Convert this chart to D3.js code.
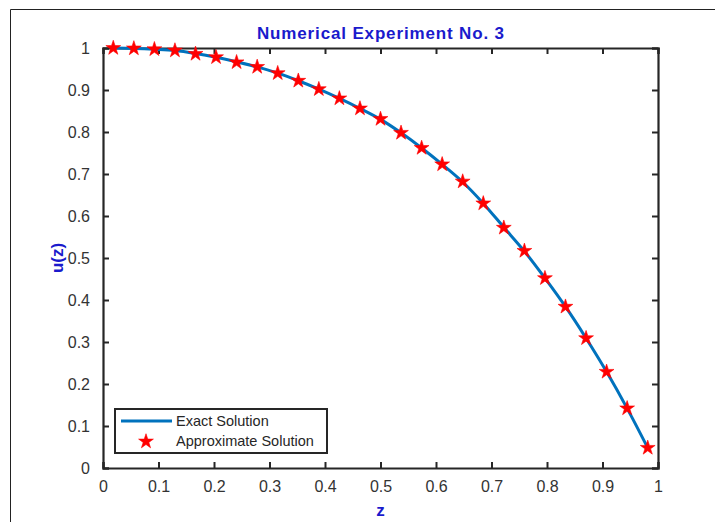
<!DOCTYPE html>
<html lang="en">
  <head>
    <meta charset="UTF-8" />
    <title>Numerical Experiment No. 3</title>
    <script src="https://cdn.jsdelivr.net/npm/d3@7"></script>
    <style>
      body { margin: 0; background: #fff; }
      svg text { font-family: Arial, "Liberation Sans", Helvetica, sans-serif; }
    </style>
  </head>
  <body>
    <script>
      // data
      var zValues = [0.0185, 0.0556, 0.0926, 0.1296, 0.1667, 0.2037, 0.2407, 0.2778, 0.3148,
                     0.3519, 0.3889, 0.4259, 0.4630, 0.5000, 0.5370, 0.5741, 0.6111, 0.6481,
                     0.6852, 0.7222, 0.7593, 0.7963, 0.8333, 0.8704, 0.9074, 0.9444, 0.9815];
      var exactU = [1.000, 0.999, 0.997, 0.994, 0.987, 0.978, 0.967, 0.955, 0.940,
                    0.922, 0.902, 0.880, 0.856, 0.830, 0.798, 0.762, 0.723, 0.681,
                    0.630, 0.573, 0.516, 0.452, 0.384, 0.309, 0.229, 0.142, 0.048];
      var approxU = [1.000, 0.999, 0.997, 0.994, 0.986, 0.978, 0.966, 0.955, 0.940,
                     0.922, 0.902, 0.880, 0.856, 0.831, 0.798, 0.762, 0.723, 0.682,
                     0.630, 0.572, 0.517, 0.452, 0.384, 0.309, 0.229, 0.142, 0.048];
      var xTicks = [0, 0.1, 0.2, 0.3, 0.4, 0.5, 0.6, 0.7, 0.8, 0.9, 1];
      var yTicks = [0, 0.1, 0.2, 0.3, 0.4, 0.5, 0.6, 0.7, 0.8, 0.9, 1];
      var legendNames = ["Exact Solution", "Approximate Solution"];

      var w = 715, h = 522;
      var margin = { top: 48, right: 57, bottom: 54, left: 103 };
      var axisColor = "#262626";

      var svg = d3.select("body").append("svg")
        .attr("width", w)
        .attr("height", h);

      // figure frame (thin line, left and top)
      svg.append("path")
        .attr("d", "M10.5," + h + "V9.5H" + w)
        .attr("fill", "none")
        .attr("stroke", "#222")
        .attr("stroke-width", 1);

      var xScale = d3.scaleLinear()
        .domain([0, 1])
        .range([margin.left, w - margin.right]);

      var yScale = d3.scaleLinear()
        .domain([0, 1])
        .range([h - margin.bottom, margin.top]);

      var fmt = function(d) { return d3.format("")(+d.toFixed(1)); };

      // axes, ticks pointing inward
      var xBottom = d3.axisBottom(xScale).tickValues(xTicks).tickSize(-6).tickPadding(13).tickFormat(fmt);
      var xTop = d3.axisTop(xScale).tickValues(xTicks).tickSize(-6).tickFormat("");
      var yLeft = d3.axisLeft(yScale).tickValues(yTicks).tickSize(-6).tickPadding(13).tickFormat(fmt);
      var yRight = d3.axisRight(yScale).tickValues(yTicks).tickSize(-6).tickFormat("");

      var axes = [
        svg.append("g").attr("transform", "translate(0," + (h - margin.bottom) + ")").call(xBottom),
        svg.append("g").attr("transform", "translate(0," + margin.top + ")").call(xTop),
        svg.append("g").attr("transform", "translate(" + margin.left + ",0)").call(yLeft),
        svg.append("g").attr("transform", "translate(" + (w - margin.right) + ",0)").call(yRight)
      ];
      axes.forEach(function(g) {
        g.select(".domain").attr("stroke", axisColor).attr("stroke-width", 2.2);
        g.selectAll(".tick line").attr("stroke", axisColor).attr("stroke-width", 2);
        g.selectAll(".tick text")
          .attr("fill", "#333")
          .style("font-size", "16px");
      });

      // exact solution line
      var exactData = zValues.map(function(z, i) { return { z: z, u: exactU[i] }; });
      var approxData = zValues.map(function(z, i) { return { z: z, u: approxU[i] }; });

      var line = d3.line()
        .x(function(d) { return xScale(d.z); })
        .y(function(d) { return yScale(d.u); })
        .curve(d3.curveMonotoneX);

      svg.append("path")
        .datum(exactData)
        .attr("fill", "none")
        .attr("stroke", "#0072BD")
        .attr("stroke-width", 3)
        .attr("d", line);

      var star = d3.symbol().type(d3.symbolStar).size(68);

      svg.selectAll(".star")
        .data(approxData)
        .enter()
        .append("path")
        .attr("class", "star")
        .attr("transform", function(d) {
          return "translate(" + xScale(d.z) + "," + yScale(d.u) + ")";
        })
        .attr("d", star)
        .attr("fill", "#ff0000")
        .attr("stroke", "#ff0000")
        .attr("stroke-width", 0.6);

      // title and axis labels
      svg.append("text")
        .attr("x", (margin.left + w - margin.right) / 2)
        .attr("y", 39)
        .attr("text-anchor", "middle")
        .attr("fill", "#1a1acc")
        .style("font-size", "17px")
        .style("font-weight", "bold")
        .attr("textLength", 247)
        .attr("lengthAdjust", "spacing")
        .text("Numerical Experiment No. 3");

      svg.append("text")
        .attr("x", (margin.left + w - margin.right) / 2)
        .attr("y", 516)
        .attr("text-anchor", "middle")
        .attr("fill", "#1a1acc")
        .style("font-size", "17px")
        .style("font-weight", "bold")
        .text("z");

      svg.append("text")
        .attr("transform", "translate(63," + yScale(0.5) + ") rotate(-90)")
        .attr("text-anchor", "middle")
        .attr("fill", "#1a1acc")
        .style("font-size", "17px")
        .style("font-weight", "bold")
        .text("u(z)");

      // legend
      var legend = svg.append("g").attr("transform", "translate(115,409)");
      legend.append("rect")
        .attr("width", 212)
        .attr("height", 44)
        .attr("fill", "#fff")
        .attr("stroke", axisColor)
        .attr("stroke-width", 2);

      legend.append("line")
        .attr("x1", 6).attr("x2", 57)
        .attr("y1", 12).attr("y2", 12)
        .attr("stroke", "#0072BD")
        .attr("stroke-width", 3);

      legend.append("path")
        .attr("transform", "translate(31,32.5)")
        .attr("d", star)
        .attr("fill", "#ff0000")
        .attr("stroke", "#ff0000")
        .attr("stroke-width", 0.6);

      legend.selectAll(".leg-text")
        .data(legendNames)
        .enter()
        .append("text")
        .attr("class", "leg-text")
        .attr("x", 61)
        .attr("y", function(d, i) { return 17 + i * 20; })
        .attr("fill", "#262626")
        .style("font-size", "14.5px")
        .text(function(d) { return d; });
    </script>
  </body>
</html>
